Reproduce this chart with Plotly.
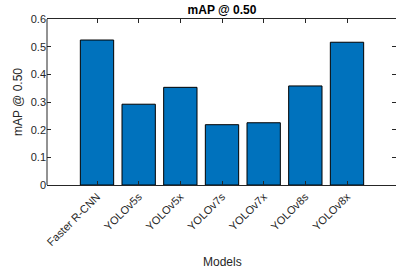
import plotly.graph_objects as go

models = ["Faster R-CNN", "YOLOv5s", "YOLOv5x", "YOLOv7s", "YOLOv7x", "YOLOv8s", "YOLOv8x"]
map50 = [0.524, 0.292, 0.353, 0.218, 0.225, 0.358, 0.516]
y_ticks = [0, 0.1, 0.2, 0.3, 0.4, 0.5, 0.6]

W, H = 396, 274
L = 47
T = 19
BOT = 185.5
B = H - BOT
R = 0

fig = go.Figure(go.Bar(
    x=models, y=map50,
    marker=dict(color="#0072BD", line=dict(color="#000000", width=1)),
    width=0.8,
    hoverinfo="skip",
))

FAM = "Liberation Sans, Arial, sans-serif"
font = dict(family=FAM, size=11, color="#262626")

fig.update_layout(
    width=W, height=H,
    margin=dict(l=L, r=R, t=T, b=B, pad=0),
    paper_bgcolor="white", plot_bgcolor="white",
    font=font,
    showlegend=False,
    title=dict(text="<b>mAP @ 0.50</b>", x=222 / W, xanchor="center", y=1 - 10 / H,
               yanchor="middle", font=dict(family=FAM, size=12, color="#000000")),
    xaxis=dict(
        type="category", range=[-1.2, 6 + (396 - 347) / 41.67],
        showline=True, linecolor="#262626", linewidth=1, mirror="ticks",
        ticks="inside", ticklen=4, tickcolor="#262626", tickangle=-45,
        showgrid=False, zeroline=False, automargin=False,
        tickfont=dict(family=FAM, size=11, color="#262626"),
    ),
    yaxis=dict(
        range=[0, 0.6], tickvals=y_ticks, ticktext=[f"{v:g}" for v in y_ticks],
        showline=False, mirror="ticks",
        ticks="inside", ticklen=4, tickcolor="#262626",
        showgrid=False, zeroline=False, automargin=False,
        tickfont=dict(family=FAM, size=11, color="#262626"),
    ),
    shapes=[dict(type="line", xref="paper", yref="paper", x0=0, x1=0, y0=0, y1=1,
                 line=dict(color="#262626", width=1))],
    annotations=[
        dict(text="Models", xref="paper", yref="paper", x=(222 - 47) / (396 - 47),
             y=-(263 - 185.5) / (185.5 - 19),
             xanchor="center", yanchor="middle", showarrow=False,
             font=dict(family=FAM, size=12, color="#262626")),
        dict(text="mAP @ 0.50", xref="paper", yref="paper", x=-(47 - 18) / (396 - 47), y=0.5,
             xanchor="center", yanchor="middle", textangle=-90, showarrow=False,
             font=dict(family=FAM, size=12, color="#262626")),
    ],
)

fig.write_html("out.html", config={"displayModeBar": False},
               post_script="document.body.style.margin='0px';")
